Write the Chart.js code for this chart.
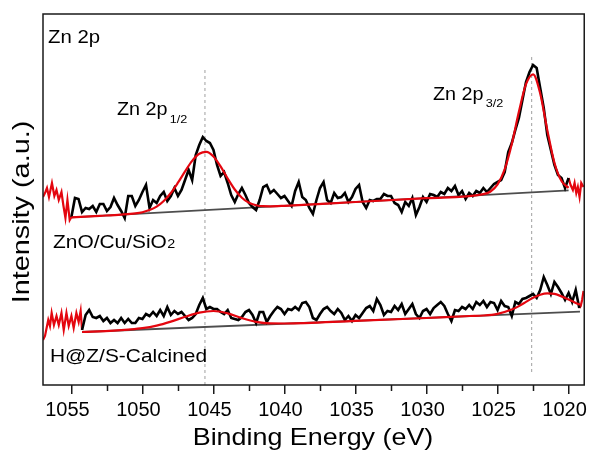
<!DOCTYPE html>
<html>
<head>
<meta charset="utf-8">
<title>Zn 2p XPS</title>
<script src="https://cdn.jsdelivr.net/npm/chart.js@4.4.1/dist/chart.umd.min.js"></script>
<style>
  html, body { margin: 0; padding: 0; background: #fff; }
  canvas { display: block; }
</style>
</head>
<body>
<canvas id="xps" width="595" height="455"></canvas>
<script>
// Zn 2p region, binding energy in eV, intensity in arbitrary units
const FONT = '"Liberation Sans", Arial, sans-serif';

const xTicks = [1055, 1050, 1045, 1040, 1035, 1030, 1025, 1020];
const xMinorTicks = [1052.5, 1047.5, 1042.5, 1037.5, 1032.5, 1027.5, 1022.5];

// raw counts, 0.25 eV step
const upperStart = 1055;     // ZnO/Cu/SiO2
const upperCounts = [
  168,187,186,173,177,176,179,173,181,181,
  174,178,187,180,174,167,189,189,179,185,
  193,200,177,185,182,189,193,184,189,197,
  189,195,205,215,205,230,240,248,244,242,
  235,220,209,213,202,190,183,191,197,190,
  182,178,175,185,198,200,192,195,191,187,
  189,184,179,194,203,188,185,177,171,185,
  197,203,185,182,192,187,188,192,183,188,
  196,200,183,177,185,184,186,186,191,189,
  189,182,180,173,183,179,187,170,178,188,
  183,191,190,188,193,191,197,194,199,190,
  194,186,192,189,194,192,197,193,197,201,
  203,205,213,233,242,255,267,285,303,313,
  320,317,297,277,250,235,220,210,207,197,
  207
];
const lowerStart = 1054.25;  // H@Z/S-Calcined
const lowerCounts = [
  55,70,75,68,67,69,64,67,62,65,
  62,67,62,66,62,62,67,66,71,69,
  73,69,75,69,78,70,74,71,73,69,
  65,67,71,80,87,76,78,76,76,73,
  71,75,67,66,65,68,73,75,70,62,
  73,73,63,69,74,78,76,71,76,75,
  78,75,82,83,78,67,65,71,76,78,
  74,71,76,72,65,69,64,70,67,72,
  77,79,74,86,80,70,74,73,79,75,
  81,71,76,81,71,67,74,76,71,77,
  80,83,79,71,64,75,74,78,76,80,
  76,83,80,84,78,83,82,75,84,79,
  78,69,83,81,86,87,89,91,87,95,
  108,100,91,103,98,92,85,92,83,95,
  77
];
const step = 0.25;

// ends of the scans outside the fitted window
const upperEdgeLeftE = [1057.0, 1056.83, 1056.72, 1056.58, 1056.37, 1056.2, 1056.05, 1055.89, 1055.7, 1055.57, 1055.42, 1055.28, 1055.12, 1055.0];
const upperEdgeLeft = [188, 193, 197, 188, 202, 189, 195, 185, 193, 180, 167, 185, 165, 168];
const upperEdgeRightE = [1020.0, 1019.86, 1019.7, 1019.58, 1019.46, 1019.35, 1019.23, 1019.11, 1018.95];
const upperEdgeRight = [207, 200, 195, 202, 192, 198, 188, 202, 198];
const lowerEdgeLeftE = [1057.0, 1056.86, 1056.63, 1056.51, 1056.39, 1056.23, 1056.05, 1055.89, 1055.7, 1055.54, 1055.35, 1055.19, 1055.0, 1054.84, 1054.65, 1054.49, 1054.35, 1054.25];
const lowerEdgeLeft = [45, 49, 65, 59, 72, 60, 69, 60, 72, 55, 72, 59, 69, 57, 72, 63, 74, 55];
const lowerEdgeRightE = [1019.25, 1019.15, 1019.05, 1018.95];
const lowerEdgeRight = [77, 79, 85, 94];

// fitted envelopes
const upperFitE = [1055, 1053, 1051.5, 1050.5, 1050, 1049.5, 1049, 1048.5, 1048, 1047.5,
  1047, 1046.5, 1046, 1045.5, 1045, 1044.5, 1044, 1043.5, 1043, 1042.5,
  1042, 1041.5, 1041, 1040, 1035, 1030, 1026, 1025.5, 1025, 1024.5,
  1024, 1023.5, 1023, 1022.5, 1022, 1021.5, 1021, 1020.5, 1020];
const upperFit = [167.7, 169.2, 170.4, 171.6, 172.8, 174.9, 178.4, 184.0, 192.0, 202.3,
  213.6, 224.1, 231.2, 233.2, 228.6, 218.6, 206.5, 195.5, 187.3, 182.2,
  179.8, 178.8, 178.7, 179.2, 183.0, 186.8, 190.8, 193.5, 200.6, 215.6,
  241.0, 273.2, 300.8, 310.7, 291.6, 254.9, 222.3, 204.0, 197.1];
const lowerFitE = [1054.25, 1052, 1051, 1050, 1049, 1048, 1047, 1046, 1045, 1044,
  1043, 1042, 1041, 1040, 1035, 1030, 1027, 1026, 1025, 1024,
  1023.5, 1023, 1022.5, 1022, 1021.5, 1021, 1020, 1019.5, 1019.2];
const lowerFit = [53.0, 54.4, 55.4, 56.8, 59.4, 63.4, 68.2, 72.4, 74.0, 71.6,
  66.9, 63.2, 61.6, 61.5, 64.1, 67.0, 69.0, 69.5, 71.2, 75.4,
  78.9, 83.1, 87.2, 90.3, 91.7, 91.1, 85.5, 82.1, 80.3];

// Shirley-type backgrounds (end points)
const upperBgE = [1055, 1020];
const upperBg = [167.7, 194.6];
const lowerBgE = [1054.25, 1019.2];
const lowerBg = [53.0, 73.3];

// peak positions (2p1/2, 2p3/2)
const peakE = [1045.6, 1022.6];
const peakTop = [318, 328];
const peakBottom = [0, 13];

function scan(start, values) {
  return values.map((v, i) => ({ x: start - step * i, y: v }));
}
function pairs(es, vs) {
  return es.map((e, i) => ({ x: e, y: vs[i] }));
}

const RED = '#e4060f';

function line(data, color, width, order, extra) {
  return Object.assign({
    data: data,
    borderColor: color,
    borderWidth: width,
    pointRadius: 0,
    fill: false,
    tension: 0,
    order: order
  }, extra || {});
}

const datasets = [
  line(pairs(upperFitE, upperFit), RED, 2.2, 0, { cubicInterpolationMode: 'monotone' }),
  line(pairs(lowerFitE, lowerFit), RED, 2.2, 0, { cubicInterpolationMode: 'monotone' }),
  line(scan(upperStart, upperCounts), '#000', 2.6, 1),
  line(scan(lowerStart, lowerCounts), '#000', 2.6, 1),
  line(pairs(upperEdgeLeftE, upperEdgeLeft), RED, 2.2, 2),
  line(pairs(upperEdgeRightE, upperEdgeRight), RED, 2.2, 2),
  line(pairs(lowerEdgeLeftE, lowerEdgeLeft), RED, 2.2, 2),
  line(pairs(lowerEdgeRightE, lowerEdgeRight), RED, 2.2, 2),
  line(pairs(upperBgE, upperBg), '#4d4d4d', 1.8, 3),
  line(pairs(lowerBgE, lowerBg), '#4d4d4d', 1.8, 3),
  line([{ x: peakE[0], y: peakBottom[0] }, { x: peakE[0], y: peakTop[0] }], '#a0a0a0', 1, 4, { borderDash: [3, 3] }),
  line([{ x: peakE[1], y: peakBottom[1] }, { x: peakE[1], y: peakTop[1] }], '#a0a0a0', 1, 4, { borderDash: [3, 3] })
];

// text drawn a little wider than the plain font
function wideText(ctx, str, x, y, size, sx, align) {
  ctx.save();
  ctx.font = size + 'px ' + FONT;
  ctx.textAlign = align || 'left';
  ctx.textBaseline = 'alphabetic';
  ctx.translate(x, y);
  ctx.scale(sx, 1);
  ctx.fillText(str, 0, 0);
  const w = ctx.measureText(str).width * sx;
  ctx.restore();
  return w;
}

const frameAndLabels = {
  id: 'frameAndLabels',
  afterDraw(chart) {
    const ctx = chart.ctx;
    const a = chart.chartArea;
    const xs = chart.scales.x;
    ctx.save();
    ctx.strokeStyle = '#1a1a1a';
    ctx.lineWidth = 1.5;
    // minor ticks
    ctx.beginPath();
    xMinorTicks.forEach(v => {
      const px = Math.round(xs.getPixelForValue(v)) + 0.5;
      ctx.moveTo(px, a.bottom);
      ctx.lineTo(px, a.bottom + 6);
    });
    ctx.stroke();
    ctx.strokeRect(a.left, a.top, a.right - a.left, a.bottom - a.top);

    ctx.fillStyle = '#000';
    wideText(ctx, 'Zn 2p', 48, 43, 18.5, 1.1);

    let w = wideText(ctx, 'Zn 2p', 117, 115, 18, 1.1);
    wideText(ctx, '1/2', 117 + w + 2, 123, 11.5, 1.1);

    w = wideText(ctx, 'Zn 2p', 433, 100, 18, 1.1);
    wideText(ctx, '3/2', 433 + w + 2, 107, 11.5, 1.1);

    w = wideText(ctx, 'ZnO/Cu/SiO', 53, 248, 19, 1.1);
    wideText(ctx, '2', 53 + w + 0.5, 248, 13, 1.1);

    wideText(ctx, 'H@Z/S-Calcined', 50, 362, 19, 1.1);

    // axis titles
    wideText(ctx, 'Binding Energy (eV)', 313, 445, 24, 1.12, 'center');
    ctx.save();
    ctx.translate(29, 212);
    ctx.rotate(-Math.PI / 2);
    wideText(ctx, 'Intensity (a.u.)', 0, 0, 24, 1.2, 'center');
    ctx.restore();
    ctx.restore();
  }
};

new Chart(document.getElementById('xps'), {
  type: 'line',
  data: { datasets: datasets },
  options: {
    responsive: false,
    animation: false,
    layout: { padding: { top: 14, right: 5, left: 0, bottom: 0 } },
    plugins: {
      legend: { display: false },
      tooltip: { enabled: false }
    },
    scales: {
      x: {
        type: 'linear',
        reverse: true,
        min: 1018.9,
        max: 1057,
        afterBuildTicks: scale => { scale.ticks = xTicks.map(v => ({ value: v })); },
        afterFit: scale => { scale.height = 70; },
        border: { display: false },
        grid: { drawOnChartArea: false, drawTicks: true, tickLength: 9, color: '#1a1a1a', lineWidth: 1.5 },
        ticks: {
          color: '#000',
          font: { family: FONT, size: 20 },
          padding: 4,
          labelOffset: -4,
          maxRotation: 0,
          autoSkip: false,
          callback: v => String(v)
        }
      },
      y: {
        min: 0,
        max: 371,
        afterFit: scale => { scale.width = 43; },
        grid: { display: false },
        border: { display: false },
        ticks: { display: false }
      }
    }
  },
  plugins: [frameAndLabels]
});
</script>
</body>
</html>
